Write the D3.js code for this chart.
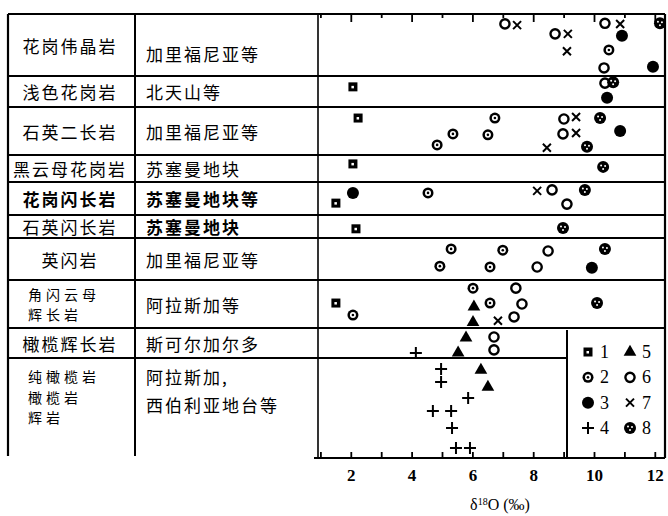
<!DOCTYPE html>
<html>
<head>
<meta charset="utf-8">
<script src="https://cdn.jsdelivr.net/npm/d3@7"></script>
<style>
  body { margin: 0; background: #fff; }
  svg { display: block; }
</style>
</head>
<body>
<svg id="chart"></svg>
<script>
// 岩石类型 / 产地
const rockTypes = ["花岗伟晶岩", "浅色花岗岩", "石英二长岩", "黑云母花岗岩", "花岗闪长岩", "石英闪长岩",
  "英闪岩", "角闪云母\n辉长岩", "橄榄辉长岩", "纯橄榄岩\n橄榄岩\n辉岩"];
const localities = ["加里福尼亚等", "北天山等", "加里福尼亚等", "苏塞曼地块", "苏塞曼地块等", "苏塞曼地块",
  "加里福尼亚等", "阿拉斯加等", "斯可尔加尔多", "阿拉斯加,\n西伯利亚地台等"];

// 每行的点: [δ18O, 类型(1-8), 行内层次 0-1]
const rowPoints = [
  [[7.07, 6, 0.16], [7.47, 7, 0.18], [8.72, 6, 0.32], [9.14, 7, 0.32], [9.11, 7, 0.6], [10.36, 6, 0.15],
   [10.86, 7, 0.16], [10.92, 3, 0.35], [10.49, 2, 0.58], [10.33, 6, 0.87], [11.94, 3, 0.85], [12.17, 8, 0.15]],
  [[2.07, 1, 0.35], [10.36, 6, 0.23], [10.63, 8, 0.2], [10.43, 3, 0.7]],
  [[2.24, 1, 0.23], [6.74, 2, 0.23], [5.36, 2, 0.56], [6.51, 2, 0.58], [4.84, 2, 0.79], [9.01, 6, 0.25],
   [9.41, 7, 0.21], [10.2, 8, 0.23], [8.98, 6, 0.56], [9.41, 7, 0.54], [10.86, 3, 0.5], [8.45, 7, 0.85], [9.77, 8, 0.83]],
  [[2.07, 1, 0.33], [10.3, 8, 0.44]],
  [[2.07, 3, 0.33], [1.51, 1, 0.64], [4.54, 2, 0.33], [8.13, 7, 0.27], [8.62, 6, 0.24], [9.7, 8, 0.24], [9.11, 6, 0.67]],
  [[2.17, 1, 0.6], [8.98, 8, 0.57]],
  [[5.3, 2, 0.26], [7.0, 2, 0.29], [8.49, 6, 0.31], [10.36, 8, 0.26], [4.93, 2, 0.67], [6.58, 2, 0.69],
   [8.13, 6, 0.69], [9.93, 3, 0.71]],
  [[6.02, 2, 0.17], [7.43, 6, 0.17], [1.51, 1, 0.48], [2.07, 2, 0.73], [6.05, 5, 0.56], [6.58, 2, 0.48],
   [7.63, 6, 0.5], [6.02, 5, 0.88], [6.84, 7, 0.85], [7.37, 6, 0.77], [10.1, 8, 0.48]],
  [[5.79, 5, 0.33], [6.71, 6, 0.3], [4.14, 4, 0.83], [5.53, 5, 0.83], [6.71, 6, 0.73]],
  [[4.97, 4, 0.11], [4.97, 4, 0.24], [6.28, 5, 0.12], [6.51, 5, 0.29], [5.86, 4, 0.4], [4.7, 4, 0.53],
   [5.3, 4, 0.53], [5.33, 4, 0.7], [5.46, 4, 0.9], [5.92, 4, 0.9]]
];

const xTickLabels = [2, 4, 6, 8, 10, 12];
const minorTicks = [1, 2, 3, 4, 5, 6, 7, 8, 9, 10, 11, 12];
const legendColumns = [[1, 2, 3, 4], [5, 6, 7, 8]];

const W = 668, H = 516;
const L = 8, C1 = 135, P0 = 318, R = 665;
const rowEdges = [14, 76, 107, 155, 182, 215, 238, 280, 328, 358, 458];
const legendBox = { x: 567, y: 330 };

const svg = d3.select("#chart").attr("width", W).attr("height", H);

const x = d3.scaleLinear().domain([0, 12]).range([290, 654.8]);

// 表格线
const lines = svg.append("g").attr("stroke", "#000").attr("fill", "none");
lines.append("line").attr("x1", L).attr("x2", R).attr("y1", rowEdges[0]).attr("y2", rowEdges[0]).attr("stroke-width", 2.2);
rowEdges.slice(1, -1).forEach(y => {
  const x2 = y > legendBox.y ? legendBox.x : R;
  lines.append("line").attr("x1", L).attr("x2", x2).attr("y1", y).attr("y2", y).attr("stroke-width", 1.8);
});
lines.append("line").attr("x1", L).attr("x2", L).attr("y1", rowEdges[0]).attr("y2", 456).attr("stroke-width", 2.2);
lines.append("line").attr("x1", C1).attr("x2", C1).attr("y1", rowEdges[0]).attr("y2", 456).attr("stroke-width", 2);
lines.append("line").attr("x1", P0).attr("x2", P0).attr("y1", rowEdges[0]).attr("y2", 458).attr("stroke-width", 1.6);
lines.append("line").attr("x1", R).attr("x2", R).attr("y1", rowEdges[0]).attr("y2", 458).attr("stroke-width", 2.2);
lines.append("line").attr("x1", legendBox.x).attr("x2", legendBox.x).attr("y1", legendBox.y).attr("y2", 458).attr("stroke-width", 2);

// 上边刻度
const topAxis = svg.append("g").attr("transform", `translate(0,${rowEdges[0]})`)
  .call(d3.axisBottom(x).tickValues(minorTicks).tickSize(6).tickFormat(""));
topAxis.select(".domain").remove();
topAxis.selectAll(".tick line").attr("stroke-width", 1.8).attr("y2", d => d % 2 === 0 ? 8 : 4);

// 下边坐标轴
const bottom = rowEdges[rowEdges.length - 1];
const minorAxis = svg.append("g").attr("transform", `translate(0,${bottom})`)
  .call(d3.axisTop(x).tickValues(minorTicks).tickSize(6).tickFormat(""));
minorAxis.select(".domain").remove();
minorAxis.selectAll(".tick line").attr("stroke-width", 1.8);
svg.append("line").attr("x1", P0 - 4).attr("x2", R).attr("y1", bottom).attr("y2", bottom)
  .attr("stroke", "#000").attr("stroke-width", 2);

const xAxis = svg.append("g").attr("transform", `translate(0,${bottom})`)
  .call(d3.axisBottom(x).tickValues(xTickLabels).tickSize(0).tickPadding(11));
xAxis.select(".domain").remove();
xAxis.selectAll("text").attr("font-family", "'Liberation Serif', 'DejaVu Serif', serif")
  .attr("font-size", 17).attr("font-weight", 700).attr("fill", "#000");

const title = svg.append("text").attr("x", 500).attr("y", 510).attr("text-anchor", "middle")
  .attr("font-family", "'Liberation Serif', 'DejaVu Serif', serif").attr("font-size", 16).attr("fill", "#000");
title.append("tspan").text("δ");
title.append("tspan").text("18").attr("font-size", 10).attr("dy", -5);
title.append("tspan").text("O (‰)").attr("dy", 5);

// 表格文字
const cjk = "'Noto Sans CJK SC', 'Noto Sans CJK TC', sans-serif";
const boldRows = [4, 5];
rockTypes.forEach((t, i) => {
  const parts = t.split("\n");
  const y0 = rowEdges[i], y1 = rowEdges[i + 1];
  const multi = parts.length > 1;
  const lh = 20.5;
  const startY = multi ? (i === 9 ? y0 + 18 : (y0 + y1) / 2 - (parts.length - 1) * lh / 2) : (y0 + y1) / 2;
  parts.forEach((p, k) => {
    svg.append("text")
      .attr("x", multi ? 28 : 70).attr("y", startY + k * lh)
      .attr("text-anchor", multi ? "start" : "middle").attr("dominant-baseline", "central")
      .attr("font-family", cjk).attr("font-size", multi ? 14 : 17)
      .attr("font-weight", i === 4 ? 700 : 400)
      .attr("letter-spacing", multi ? 4 : 2)
      .text(p);
  });
});
localities.forEach((t, i) => {
  const parts = t.split("\n");
  const y0 = rowEdges[i], y1 = rowEdges[i + 1];
  const startY = parts.length > 1 ? y0 + 18 : (i === 0 ? (y0 + y1) / 2 + 8 : (y0 + y1) / 2);
  parts.forEach((p, k) => {
    svg.append("text")
      .attr("x", 146).attr("y", startY + k * 28)
      .attr("dominant-baseline", "central")
      .attr("font-family", cjk).attr("font-size", 17)
      .attr("font-weight", boldRows.includes(i) ? 700 : 400)
      .attr("letter-spacing", 2)
      .text(p);
  });
});

// 符号
function drawMarker(g, type) {
  if (type === 1) {
    g.append("rect").attr("x", -4.5).attr("y", -4.5).attr("width", 9).attr("height", 9).attr("fill", "#000");
    g.append("rect").attr("x", -1.5).attr("y", -1).attr("width", 2.5).attr("height", 2.5).attr("fill", "#fff");
  } else if (type === 2) {
    g.append("circle").attr("r", 5.5).attr("fill", "#000");
    g.append("circle").attr("r", 3).attr("fill", "#fff");
    g.append("circle").attr("r", 1.3).attr("fill", "#000");
  } else if (type === 3) {
    g.append("circle").attr("r", 6).attr("fill", "#000");
  } else if (type === 4) {
    g.append("path").attr("d", "M-6,0H6M0,-6V6").attr("stroke", "#000").attr("stroke-width", 2);
  } else if (type === 5) {
    g.append("path").attr("d", d3.symbol(d3.symbolTriangle, 70)()).attr("fill", "#000");
  } else if (type === 6) {
    g.append("circle").attr("r", 4.6).attr("fill", "#fff").attr("stroke", "#000").attr("stroke-width", 2.4);
  } else if (type === 7) {
    g.append("path").attr("d", "M-4,-4L4,4M-4,4L4,-4").attr("stroke", "#000").attr("stroke-width", 2);
  } else if (type === 8) {
    g.append("circle").attr("r", 6).attr("fill", "#000");
    [[-2, -1.5], [2, -1], [0, 2]].forEach(([dx, dy]) =>
      g.append("circle").attr("cx", dx).attr("cy", dy).attr("r", 1).attr("fill", "#fff"));
  }
}

rowPoints.forEach((pts, i) => {
  const y = d3.scaleLinear().domain([0, 1]).range([rowEdges[i], rowEdges[i + 1]]);
  pts.forEach(([v, type, lane]) => {
    const g = svg.append("g").attr("transform", `translate(${x(v)},${y(lane)})`);
    drawMarker(g, type);
  });
});

// 图例
const legendRowY = d3.scalePoint().domain([0, 1, 2, 3]).range([352, 428]);
const legendColX = [588, 630];
legendColumns.forEach((col, c) => {
  col.forEach((type, r) => {
    const g = svg.append("g").attr("transform", `translate(${legendColX[c]},${legendRowY(r)})`);
    drawMarker(g, type);
    svg.append("text").attr("x", legendColX[c] + 12).attr("y", legendRowY(r))
      .attr("dominant-baseline", "central")
      .attr("font-family", "'Liberation Serif', 'DejaVu Serif', serif").attr("font-size", 18)
      .text(type);
  });
});
</script>
</body>
</html>
